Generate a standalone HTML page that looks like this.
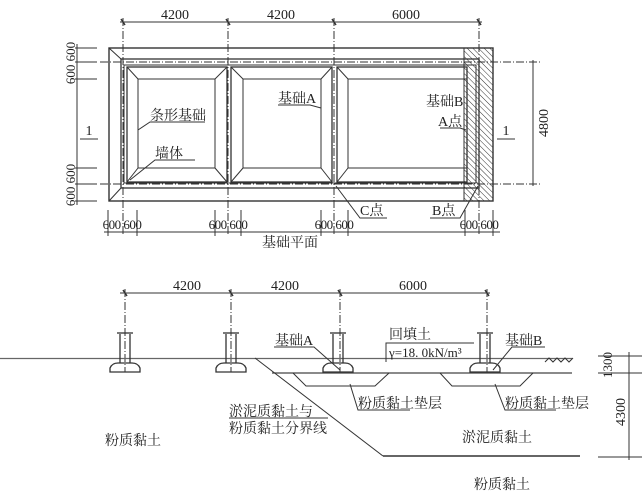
<!DOCTYPE html>
<html><head><meta charset="utf-8"><style>
html,body{margin:0;padding:0;background:#fff;}
svg{display:block;}
text{font-family:"Liberation Serif","Noto Serif CJK SC","Noto Sans CJK SC",serif;fill:#222;}
</style></head><body>
<svg width="642" height="496" viewBox="0 0 642 496" xmlns="http://www.w3.org/2000/svg">
<defs>
<pattern id="h" width="4" height="4" patternUnits="userSpaceOnUse" patternTransform="rotate(-45)">
<line x1="0" y1="0" x2="0" y2="4" stroke="#333" stroke-width="1"/>
</pattern>
</defs>
<g stroke="#333" fill="none" stroke-width="1">
<line x1="120" y1="22" x2="482" y2="22"/>
<g stroke-dasharray="8,2,1,2">
<line x1="123" y1="18" x2="123" y2="236"/>
<line x1="228" y1="18" x2="228" y2="236"/>
<line x1="334" y1="18" x2="334" y2="236"/>
<line x1="479" y1="18" x2="479" y2="236"/>
<line x1="100" y1="62" x2="540" y2="62"/>
<line x1="100" y1="184" x2="540" y2="184"/>
</g>
<g stroke-width="1.5">
<line x1="121" y1="19" x2="125" y2="25"/><line x1="226" y1="19" x2="230" y2="25"/><line x1="332" y1="19" x2="336" y2="25"/><line x1="477" y1="19" x2="481" y2="25"/>
</g>
<rect x="109" y="48" width="384" height="153" stroke-width="1.4"/>
<rect x="121" y="59" width="358" height="129" stroke-width="1.3"/>
<line x1="109" y1="48" x2="121" y2="59"/><line x1="109" y1="201" x2="121" y2="188"/>
<rect x="124" y="65" width="352" height="118"/>
<rect x="127" y="67" width="100" height="115" stroke-width="1.3"/><rect x="138" y="79" width="77" height="89"/>
<line x1="127" y1="67" x2="138" y2="79"/><line x1="227" y1="67" x2="215" y2="79"/><line x1="127" y1="182" x2="138" y2="168"/><line x1="227" y1="182" x2="215" y2="168"/>
<rect x="231" y="67" width="101" height="115" stroke-width="1.3"/><rect x="243" y="79" width="78" height="89"/>
<line x1="231" y1="67" x2="243" y2="79"/><line x1="332" y1="67" x2="321" y2="79"/><line x1="231" y1="182" x2="243" y2="168"/><line x1="332" y1="182" x2="321" y2="168"/>
<rect x="337" y="67" width="130" height="115" stroke-width="1.3"/><rect x="348" y="79" width="119" height="89"/>
<line x1="337" y1="67" x2="348" y2="79"/><line x1="337" y1="182" x2="348" y2="168"/>
<rect x="464" y="48" width="29" height="153" fill="url(#h)"/>
<line x1="77" y1="44" x2="77" y2="205"/>
<line x1="75" y1="48" x2="97" y2="48"/><line x1="75" y1="62" x2="97" y2="62"/><line x1="75" y1="79" x2="97" y2="79"/>
<line x1="75" y1="168" x2="97" y2="168"/><line x1="75" y1="184" x2="97" y2="184"/><line x1="75" y1="201" x2="97" y2="201"/>
<line x1="80" y1="139" x2="98" y2="139"/>
<line x1="497" y1="139" x2="515" y2="139"/>
<line x1="533" y1="60" x2="533" y2="186"/>
<line x1="104" y1="232" x2="500" y2="232"/>
<g>
<line x1="108" y1="210" x2="108" y2="236"/><line x1="137" y1="210" x2="137" y2="236"/>
<line x1="215" y1="210" x2="215" y2="236"/><line x1="241" y1="210" x2="241" y2="236"/>
<line x1="321" y1="210" x2="321" y2="236"/><line x1="348" y1="210" x2="348" y2="236"/>
<line x1="465" y1="210" x2="465" y2="236"/><line x1="493" y1="210" x2="493" y2="236"/>
</g>
<polyline points="138,130 150,122 205,122"/>
<polyline points="130,180 155,160 195,160"/>
<polyline points="321,108 310,105 278,105"/>
<polyline points="336,186 360,218 387,218"/>
<polyline points="466,130 460,128 440,128"/>
<polyline points="478,186 460,218 430,218"/>

<line x1="120" y1="293" x2="490" y2="293"/>
<g stroke-dasharray="8,2,1,2">
<line x1="125" y1="289" x2="125" y2="372"/><line x1="231" y1="289" x2="231" y2="372"/>
<line x1="340" y1="289" x2="340" y2="372"/><line x1="487" y1="289" x2="487" y2="372"/>
</g>
<g stroke-width="1.5"><line x1="123" y1="290" x2="127" y2="296"/><line x1="229" y1="290" x2="233" y2="296"/><line x1="338" y1="290" x2="342" y2="296"/><line x1="485" y1="290" x2="489" y2="296"/></g>
<line x1="0" y1="358.5" x2="572" y2="358.5" stroke="#666" stroke-width="1.3"/>
<line x1="272" y1="373" x2="572" y2="373" stroke="#444" stroke-width="1.2"/>
<line x1="255" y1="358" x2="383" y2="456"/>
<line x1="383" y1="456" x2="580" y2="456" stroke-width="1.4"/>
<line x1="598" y1="356" x2="642" y2="356"/><line x1="598" y1="373" x2="642" y2="373"/><line x1="598" y1="457" x2="642" y2="457"/>
<line x1="629" y1="352" x2="629" y2="460"/>
<path d="M545 362 l4 -4 l4 4 l4 -4 l4 4 l4 -4 l4 4 l4 -4"/>
<polyline points="293,373 306,386 375,386 389,373"/>
<polyline points="440,373 452,386 520,386 533,373"/>
<g id="f" stroke-width="1.3">
<path d="M110 372 L110 368 Q112 363 118 363 L132 363 Q138 363 140 368 L140 372 Z"/>
<line x1="120" y1="363" x2="120" y2="334"/><line x1="130" y1="363" x2="130" y2="334"/>
<line x1="117" y1="333" x2="133" y2="333"/>
</g>
<use href="#f" x="106"/><use href="#f" x="213"/><use href="#f" x="360"/>
<polyline points="340,370 314,347 274,347"/>
<polyline points="493,370 512,347 545,347"/>
<polyline points="386,362 386,343 474,343"/>
<polyline points="350,384 358,410 410,410"/>
<polyline points="495,384 505,410 556,410"/>
<line x1="229" y1="418" x2="328" y2="418"/>
</g>
<g font-size="14">
<text x="175" y="19" text-anchor="middle">4200</text>
<text x="281" y="19" text-anchor="middle">4200</text>
<text x="406" y="19" text-anchor="middle">6000</text>
<text x="548" y="123" transform="rotate(-90 548 123)" text-anchor="middle">4800</text>
<text x="506" y="135" text-anchor="middle">1</text>
<text x="89" y="135" text-anchor="middle">1</text>
<g font-size="13">
<text x="0" y="0" transform="translate(75,63) rotate(-90)" text-anchor="middle">600 600</text>
<text x="0" y="0" transform="translate(75,185) rotate(-90)" text-anchor="middle">600 600</text>
<text x="122" y="229" text-anchor="middle" letter-spacing="-0.5">600 600</text>
<text x="228" y="229" text-anchor="middle" letter-spacing="-0.5">600 600</text>
<text x="334" y="229" text-anchor="middle" letter-spacing="-0.5">600 600</text>
<text x="479" y="229" text-anchor="middle" letter-spacing="-0.5">600 600</text>
</g>
<text x="150" y="120">条形基础</text>
<text x="155" y="158">墙体</text>
<text x="278" y="103">基础A</text>
<text x="426" y="106">基础B</text>
<text x="438" y="126">A点</text>
<text x="360" y="215">C点</text>
<text x="432" y="215">B点</text>
<text x="290" y="247" text-anchor="middle">基础平面</text>
<text x="187" y="290" text-anchor="middle">4200</text>
<text x="285" y="290" text-anchor="middle">4200</text>
<text x="413" y="290" text-anchor="middle">6000</text>
<text x="275" y="345">基础A</text>
<text x="505" y="345">基础B</text>
<text x="410" y="339" text-anchor="middle">回填土</text>
<text x="389" y="357" font-size="13">γ=18. 0kN/m³</text>
<text x="358" y="408">粉质黏土垫层</text>
<text x="505" y="408">粉质黏土垫层</text>
<text x="229" y="416">淤泥质黏土与</text>
<text x="229" y="433">粉质黏土分界线</text>
<text x="105" y="445">粉质黏土</text>
<text x="462" y="442">淤泥质黏土</text>
<text x="474" y="489">粉质黏土</text>
<text x="0" y="0" transform="translate(612,365) rotate(-90)" text-anchor="middle" font-size="13">1300</text>
<text x="0" y="0" transform="translate(625,412) rotate(-90)" text-anchor="middle">4300</text>
</g>
</svg>
</body></html>
